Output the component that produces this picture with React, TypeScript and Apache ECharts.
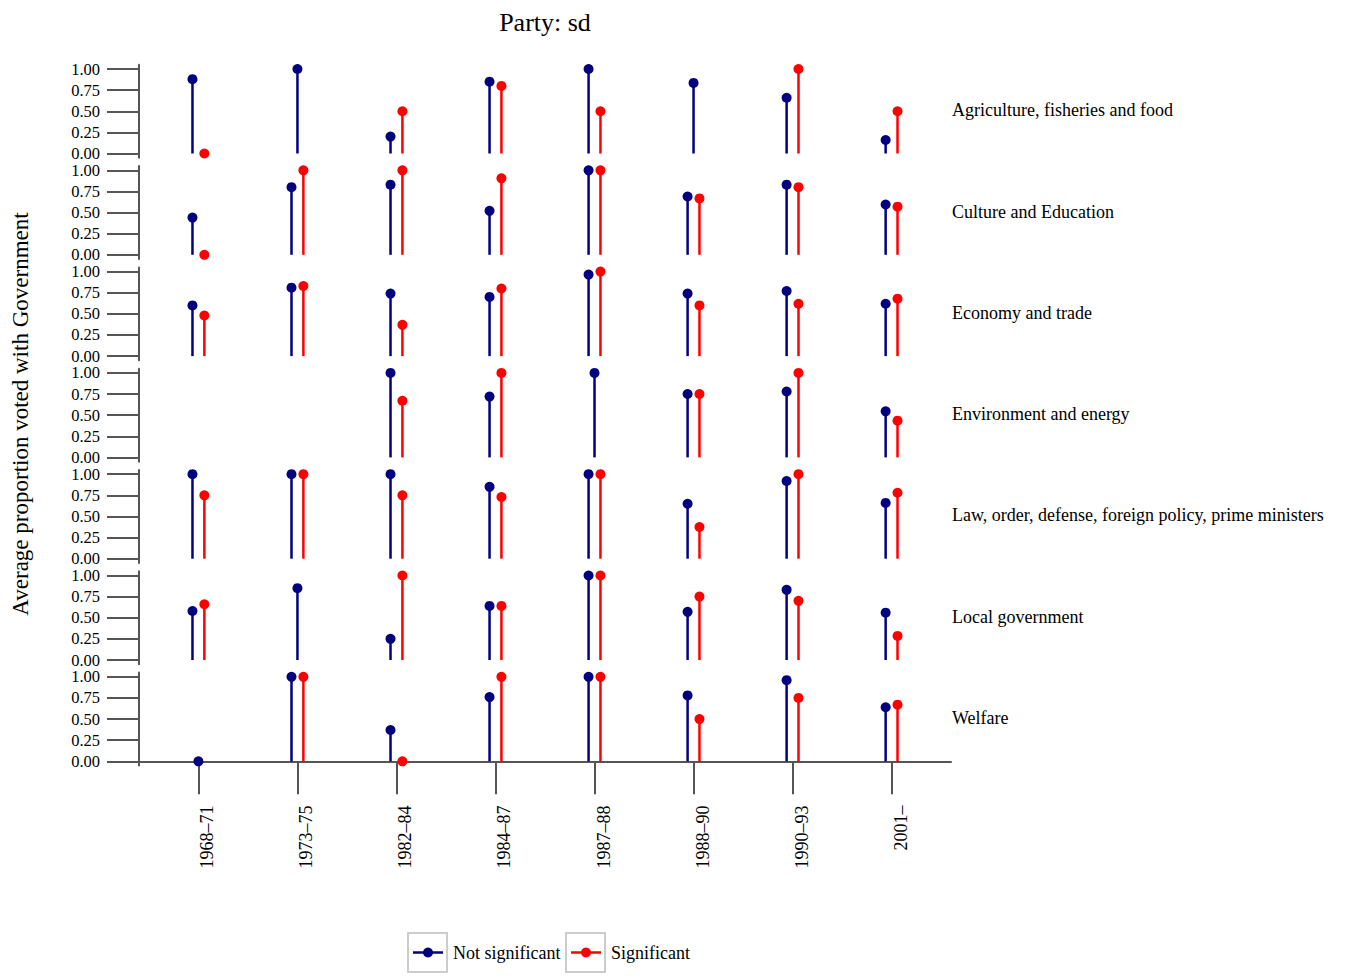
import React, { useEffect, useRef } from "react";
import * as echarts from "echarts";

const categories = ["1968–71", "1973–75", "1982–84", "1984–87", "1987–88", "1988–90", "1990–93", "2001–"];
const topics = [
  "Agriculture, fisheries and food",
  "Culture and Education",
  "Economy and trade",
  "Environment and energy",
  "Law, order, defense, foreign policy, prime ministers",
  "Local government",
  "Welfare",
];
const yTicks = [0, 0.25, 0.5, 0.75, 1];

const agricultureNS = [0.88, 1.0, 0.2, 0.85, 1.0, 0.835, 0.66, 0.16];
const agricultureS = [0, null, 0.5, 0.8, 0.5, null, 1.0, 0.5];
const cultureNS = [0.44, 0.8, 0.83, 0.52, 1.0, 0.69, 0.83, 0.595];
const cultureS = [0, 1.0, 1.0, 0.905, 1.0, 0.667, 0.8, 0.57];
const economyNS = [0.6, 0.81, 0.74, 0.7, 0.965, 0.74, 0.77, 0.62];
const economyS = [0.48, 0.83, 0.37, 0.8, 1.0, 0.6, 0.62, 0.68];
const environmentNS = [null, null, 1.0, 0.72, 1.0, 0.75, 0.78, 0.545];
const environmentS = [null, null, 0.67, 1.0, null, 0.75, 1.0, 0.435];
const lawNS = [1.0, 1.0, 1.0, 0.85, 1.0, 0.65, 0.92, 0.66];
const lawS = [0.75, 1.0, 0.75, 0.73, 1.0, 0.375, 1.0, 0.78];
const localNS = [0.58, 0.85, 0.25, 0.64, 1.0, 0.57, 0.83, 0.56];
const localS = [0.66, null, 1.0, 0.64, 1.0, 0.75, 0.7, 0.285];
const welfareNS = [0, 1.0, 0.37, 0.76, 1.0, 0.78, 0.96, 0.64];
const welfareS = [null, 1.0, 0, 1.0, 1.0, 0.5, 0.75, 0.67];

const notSignificant = [agricultureNS, cultureNS, economyNS, environmentNS, lawNS, localNS, welfareNS];
const significant = [agricultureS, cultureS, economyS, environmentS, lawS, localS, welfareS];

const NAVY = "#000080";
const RED = "#ff0000";
const AXIS = "#555555";
const FONT = "Liberation Serif";

export default function App() {
  const ref = useRef<HTMLDivElement>(null);
  useEffect(() => {
    if (!ref.current) return;
    const chart = echarts.init(ref.current, null, { renderer: "svg" });
    const left = 139;
    const width = 812;
    const unit = 84.5;
    const step = 101.3;
    const top0 = 69 - 0.05 * unit;
    const gh = unit * 1.1;
    const dodge = 0.06;

    const grids: any[] = [];
    const xAxes: any[] = [];
    const yAxes: any[] = [];
    const series: any[] = [];
    const graphics: any[] = [];

    topics.forEach((t, i) => {
      const top = top0 + i * step;
      grids.push({ left, top, width, height: gh });
      const isLast = i === topics.length - 1;
      xAxes.push({
        type: "value",
        gridIndex: i,
        min: 0.4,
        max: 8.6,
        show: isLast,
        splitLine: { show: false },
        axisLine: { show: isLast, lineStyle: { color: AXIS, width: 2 } },
        axisTick: { show: isLast, length: 33, customValues: [1, 2, 3, 4, 5, 6, 7, 8], lineStyle: { color: AXIS, width: 2 } },
        axisLabel: {
          show: isLast,
          customValues: [1, 2, 3, 4, 5, 6, 7, 8],
          formatter: (v: number) => categories[Math.round(v) - 1] ?? "",
          rotate: 90,
          margin: 40,
          verticalAlign: "top",
          fontFamily: FONT,
          fontSize: 18,
          color: "#000",
        },
      });
      yAxes.push({
        type: "value",
        gridIndex: i,
        min: -0.05,
        max: 1.05,
        splitLine: { show: false },
        axisLine: { show: true, lineStyle: { color: AXIS, width: 2 } },
        axisTick: { show: true, length: 32, customValues: yTicks, lineStyle: { color: AXIS, width: 2 } },
        axisLabel: {
          customValues: yTicks,
          formatter: (v: number) => v.toFixed(2),
          margin: 39,
          fontFamily: FONT,
          fontSize: 16.5,
          lineHeight: 14,
          color: "#000",
        },
      });

      const ns = notSignificant[i];
      const s = significant[i];
      const mk = (vals: (number | null)[], other: (number | null)[], sign: number) =>
        vals
          .map((v, k) => (v == null ? null : [k + 1 + (other[k] == null ? 0 : sign * dodge), v]))
          .filter((d) => d != null);
      const render = (color: string) => (params: any, api: any) => {
        const x = api.value(0);
        const y = api.value(1);
        const p0 = api.coord([x, 0]);
        const p1 = api.coord([x, y]);
        return {
          type: "group",
          children: [
            { type: "line", shape: { x1: p0[0], y1: p0[1], x2: p1[0], y2: p1[1] }, style: { stroke: color, lineWidth: 2.5 } },
            { type: "circle", shape: { cx: p1[0], cy: p1[1], r: 5 }, style: { fill: color } },
          ],
        };
      };
      series.push({
        type: "custom",
        name: "Not significant",
        xAxisIndex: i,
        yAxisIndex: i,
        clip: false,
        renderItem: render(NAVY),
        data: mk(ns, s, -1),
      });
      series.push({
        type: "custom",
        name: "Significant",
        xAxisIndex: i,
        yAxisIndex: i,
        clip: false,
        renderItem: render(RED),
        data: mk(s, ns, 1),
      });

      graphics.push({
        type: "text",
        left: 952,
        top: 69 + i * step + unit / 2 - 10,
        style: { text: t, font: `18px "${FONT}"`, fill: "#000", textVerticalAlign: "top" },
      });
    });

    graphics.push({
      type: "text",
      x: 545,
      y: 22,
      style: { text: "Party: sd", font: `26px "${FONT}"`, fill: "#000", align: "center", verticalAlign: "middle" },
    });
    graphics.push({
      type: "text",
      x: 20,
      y: 414,
      rotation: Math.PI / 2,
      style: {
        text: "Average proportion voted with Government",
        font: `23px "${FONT}"`,
        fill: "#000",
        align: "center",
        verticalAlign: "middle",
      },
    });

    const legendItems = [
      { label: "Not significant", color: NAVY, x: 408 },
      { label: "Significant", color: RED, x: 566 },
    ];
    legendItems.forEach((it) => {
      graphics.push({ type: "rect", shape: { x: it.x, y: 933, width: 39, height: 39 }, style: { fill: "#fff", stroke: "#cccccc", lineWidth: 2 } });
      graphics.push({ type: "line", shape: { x1: it.x + 5, y1: 952.5, x2: it.x + 35, y2: 952.5 }, style: { stroke: it.color, lineWidth: 2.5 } });
      graphics.push({ type: "circle", shape: { cx: it.x + 20, cy: 952.5, r: 5 }, style: { fill: it.color } });
      graphics.push({
        type: "text",
        x: it.x + 45,
        y: 953,
        style: { text: it.label, font: `18px "${FONT}"`, fill: "#000", verticalAlign: "middle" },
      });
    });

    chart.setOption({
      animation: false,
      backgroundColor: "#fff",
      grid: grids,
      xAxis: xAxes,
      yAxis: yAxes,
      series,
      graphic: graphics,
    });
    return () => chart.dispose();
  }, []);
  return <div ref={ref} style={{ position: "fixed", left: 0, top: 0, width: 1347, height: 977 }} />;
}
